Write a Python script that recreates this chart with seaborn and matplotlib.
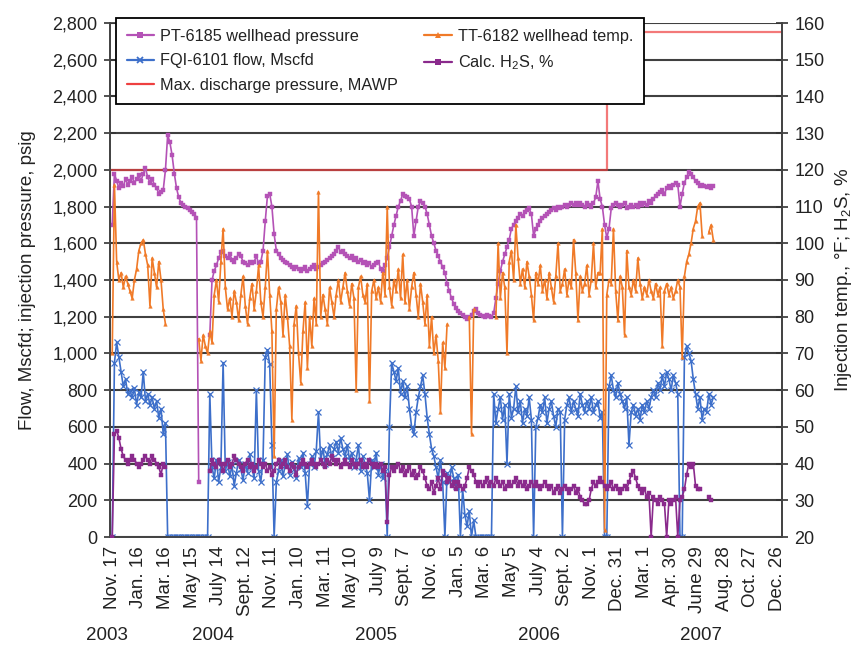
import numpy as np
import pandas as pd
import matplotlib
matplotlib.use("Agg")
import matplotlib.pyplot as plt
import matplotlib.dates as mdates
from matplotlib.lines import Line2D
from matplotlib.transforms import blended_transform_factory
import seaborn as sns

NA = np.nan

# ---------------- data (sampled every 5 days from 17 Nov 2003) ----------------
SAMPLE_START = "2003-11-17"
SAMPLE_STEP = "5D"

pt_psig = [  # PT-6185 wellhead pressure, psig
    1700, 1980, 1940, 1900, 1930, 1910, 1950, 1920, 1940, 1960,
    1930, 1950, 1970, 1940, 1980, 2010, 1960, 1930, 1950, 1920,
    1900, 1870, 1880, 1890, 2000, 2190, 2150, 2080, 1980, 1900,
    1850, 1820, 1810, 1800, 1790, 1780, 1770, 1760, 1740, 300,
    NA, NA, NA, NA, 1100, 1400, 1450, 1480, 1520, 1550,
    1560, 1530, 1520, 1540, 1510, 1500, 1520, 1540, 1530, 1500,
    1490, 1480, 1500, 1490, 1500, 1530, 1490, 1500, 1560, 1720,
    1860, 1870, 1800, 1650, 1560, 1540, 1520, 1510, 1500, 1490,
    1480, 1470, 1460, 1470, 1460, 1450, 1460, 1470, 1450, 1460,
    1470, 1480, 1460, 1470, 1480, 1490, 1500, 1510, 1520, 1530,
    1540, 1560, 1580, 1550, 1560, 1540, 1530, 1520, 1530, 1510,
    1520, 1500, 1510, 1490, 1500, 1480, 1490, 1470, 1480, 1490,
    1500, 1460, 1450, 1480, 1520, 1580, 1640, 1700, 1750, 1800,
    1830, 1870, 1860, 1850, 1840, 1800, 1640, 1720, 1800, 1830,
    1820, 1800, 1760, 1700, 1640, 1600, 1560, 1530, 1500, 1470,
    1440, 1380, 1340, 1300, 1270, 1250, 1230, 1220, 1210, 1200,
    1190, 1200, 1210, 1230, 1240, 1220, 1210, 1205, 1200, 1210,
    1205, 1200, 1220, 1300, 1380, 1450, 1500, 1540, 1580, 1620,
    1680, 1700, 1720, 1740, 1760, 1750, 1770, 1780, 1790, 1760,
    1640, 1680, 1700, 1720, 1740, 1750, 1760, 1770, 1780, 1790,
    1780, 1800, 1790, 1800, 1810, 1800, 1810, 1820, 1810, 1820,
    1810, 1820, 1810, 1800, 1820, 1810, 1800, 1820, 1850, 1940,
    1840, 1800, 1700, 1630, 1680, 1790, 1810, 1820, 1810, 1800,
    1810, 1820, 1790, 1800, 1810, 1800, 1810, 1800, 1820, 1810,
    1820, 1810, 1830, 1820, 1840, 1860, 1870, 1880, 1890, 1870,
    1900, 1910, 1900, 1920, 1930, 1920, 1800, 1870, 1930, 1960,
    1990, 1980, 1960, 1940, 1930, 1910, 1920, 1910, 1905, 1910,
    1900, 1910,
]

tt_degf = [  # TT-6182 wellhead temperature, deg F
    70, 116, 95, 90, 92, 88, 91, 89, 87, 85,
    90, 93, 98, 100, 101, 97, 94, 83, 96, 92,
    88, 95, 90, 82, 78, NA, NA, NA, NA, NA,
    NA, NA, NA, NA, NA, NA, NA, NA, NA, 74,
    68, 75, 72, 70, 76, 73, 86, 90, 84, 95,
    104, 88, 82, 85, 80, 87, 84, 79, 86, 91,
    83, 78, 85, 89, 82, 87, 94, 84, 80, 88,
    98, 86, 76, 42, 82, 88, 84, 75, 86, 80,
    72, 52, 78, 83, 70, 62, 76, 84, 66, 80,
    72, 85, 78, 114, 80, 86, 82, 78, 88, 84,
    80, 86, 90, 84, 88, 92, 87, 83, 89, 85,
    60, 88, 91, 86, 84, 89, 57, 87, 90, 85,
    88, 84, 92, 86, 110, 88, 83, 90, 87, 93,
    85, 97, 84, 90, 82, 88, 92, 86, 80, 89,
    84, 78, 86, 72, 80, 70, 75, 68, 54, 73,
    66, 78, NA, NA, NA, NA, NA, NA, NA, NA,
    NA, 80, 48, 82, NA, NA, NA, NA, NA, NA,
    NA, NA, NA, 80, 100, 85, 92, 88, 70, 95,
    98, 90, 105, 96, 89, 93, 88, 95, 91, 86,
    79, 92, 89, 94, 87, 90, 85, 92, 88, 84,
    91, 100, 87, 89, 93, 86, 90, 88, 101, 92,
    79, 91, 87, 89, 94, 86, 90, 100, 88, 92,
    92, 104, 22, 86, 90, 89, 104, 87, 79, 91,
    88, 75, 98, 88, 86, 90, 87, 96, 89, 85,
    88, 86, 90, 87, 85, 89, 86, 88, 72, 87,
    89, 86, 88, 85, 87, 90, 88, 69, 91, 95,
    97, 100, 104, 106, 110, 111, 102, NA, NA, 103,
    105, 101,
]

fqi_mscfd = [  # FQI-6101 flow, Mscfd
    0, 950, 1060, 980, 900, 820, 860, 780, 800, 760,
    810, 720, 790, 760, 900, 740, 780, 720, 760, 700,
    740, 650, 700, 560, 620, 0, 0, 0, 0, 0,
    0, 0, 0, 0, 0, 0, 0, 0, 0, 0,
    0, 0, 0, 0, 780, 380, 320, 420, 300, 380,
    950, 360, 410, 330, 390, 280, 350, 420, 370, 310,
    400, 350, 450, 380, 320, 800, 360, 300, 420, 980,
    1020, 940, 500, 0, 300, 360, 420, 330, 390, 450,
    340, 410, 370, 320, 430, 380, 460, 350, 170, 400,
    440, 380, 470, 680, 420, 480, 400, 450, 500, 430,
    480, 520, 460, 540, 480, 440, 500, 420, 460, 380,
    420, 500, 360, 440, 400, 350, 200, 420, 380, 460,
    340, 400, 320, 360, 0, 600, 950, 900, 850, 920,
    780, 850, 760, 820, 700, 600, 560, 680, 760, 820,
    880, 780, 650, 560, 480, 440, 380, 320, 420, 300,
    0, 350, 300, 380, 320, 280, 340, 0, 260, 120,
    60, 140, 0, 90, 0, 0, 0, 0, 0, 0,
    0, 0, 780, 620, 700, 760, 640, 720, 400, 780,
    650, 700, 820, 680, 740, 620, 700, 660, 760, 640,
    0, 600, 650, 720, 680, 760, 620, 700, 740, 660,
    600, 700, 680, 0, 640, 720, 760, 680, 740, 700,
    660, 780, 720, 680, 740, 700, 760, 680, 720, 740,
    650, 680, 0, 0, 820, 880, 800, 760, 840, 780,
    740, 700, 760, 500, 680, 720, 660, 700, 640, 720,
    680, 740, 700, 760, 800, 760, 840, 800, 880, 820,
    900, 860, 800, 880, 840, 780, 0, 0, 980, 1040,
    1000, 960, 860, 780, 700, 760, 640, 700, 680, 780,
    720, 760,
]

h2s_pct = [  # calculated H2S, %
    20, 48, 49, 47, 44, 42, 41, 40, 41, 42,
    41, 40, 39, 40, 41, 42, 41, 40, 42, 41,
    40, 39, 37, 40, 39, NA, NA, NA, NA, NA,
    NA, NA, NA, NA, NA, NA, NA, NA, NA, NA,
    NA, NA, NA, NA, 38, 41, 40, 39, 41, 40,
    38, 40, 41, 39, 40, 42, 41, 40, 39, 38,
    40, 41, 39, 40, 38, 39, 41, 40, 39, 40,
    38, 39, 37, 38, 40, 41, 39, 40, 41, 39,
    38, 40, 39, 37, 39, 40, 41, 40, 39, 40,
    41, 40, 39, 40, 41, 40, 39, 41, 40, 42,
    41, 40, 41, 39, 40, 41, 40, 39, 41, 40,
    39, 40, 41, 39, 40, 39, 41, 40, 39, 40,
    39, 40, 38, 39, 24, 37, 39, 38, 39, 40,
    38, 39, 37, 38, 39, 37, 38, 36, 37, 39,
    38, 36, 34, 33, 35, 32, 34, 36, 33, 38,
    37, 35, 36, 34, 35, 33, 35, 34, 33, 34,
    36, 39, 38, 37, 35, 34, 35, 34, 35, 36,
    34, 35, 34, 36, 35, 34, 35, 33, 34, 35,
    34, 35, 36, 34, 35, 34, 35, 33, 34, 35,
    34, 35, 34, 33, 34, 35, 34, 33, 34, 32,
    33, 34, 32, 33, 34, 33, 32, 33, 34, 32,
    33, 31, 30, 29, 29, 30, 33, 35, 34, 35,
    36, 35, 34, 33, 34, 35, 33, 34, 33, 32,
    33, 34, 33, 35, 37, 38, 36, 34, 33, 32,
    33, 31, 32, 20, 31, 30, 29, 31, 30, 29,
    20, 30, 29, 30, 31, 20, 30, 31, 33, 37,
    40, 39, 40, 34, 33, 33, NA, NA, NA, 31,
    30, NA,
]

mawp_dates = ["2003-11-12", "2006-12-06", "2006-12-06", "2008-01-05"]
mawp_psig = [2000, 2000, 2750, 2750]

x_tick_labels = ["Nov. 17", "Jan. 16", "Mar. 16", "May 15", "July 14", "Sept. 12",
                 "Nov. 11", "Jan. 10", "Mar. 11", "May 10", "July 9", "Sept. 7",
                 "Nov. 6", "Jan. 5", "Mar. 6", "May 5", "July 4", "Sept. 2",
                 "Nov. 1", "Dec. 31", "Mar. 1", "Apr. 30", "June 29", "Aug. 28",
                 "Oct. 27", "Dec. 26"]
x_tick_start = "2003-11-17"

left_ticks = [0, 200, 400, 600, 800, 1000, 1200, 1400, 1600, 1800, 2000,
              2200, 2400, 2600, 2800]
left_tick_labels = ["0", "200", "400", "600", "800", "1,000", "1,200", "1,400",
                    "1,600", "1,800", "2,000", "2,200", "2,400", "2,600", "2,800"]
right_ticks = [20, 30, 40, 50, 60, 70, 80, 90, 100, 110, 120, 130, 140, 150, 160]

year_labels = ["2003", "2004", "2005", "2006", "2007"]
year_label_dates = ["2003-11-04", "2004-07-01", "2005-07-04", "2006-07-06", "2007-07-06"]

# ---------------- style ----------------
sns.set_style("white")
plt.rcParams["font.family"] = ["Liberation Sans", "DejaVu Sans"]
plt.rcParams["mathtext.fontset"] = "custom"
plt.rcParams["mathtext.rm"] = "Liberation Sans"
plt.rcParams["mathtext.it"] = "Liberation Sans:italic"
plt.rcParams["text.color"] = "#222222"

C_PT = "#b452b6"
C_TT = "#f07a28"
C_FQI = "#3d6fca"
C_H2S = "#8a2a8c"
C_MAWP = "#ee4040"
GRID = "#404040"


def series_frame(values):
    v = np.array(values, dtype=float)
    d = pd.date_range(SAMPLE_START, periods=len(v), freq=SAMPLE_STEP)
    df = pd.DataFrame({"date": d, "value": v})
    df["seg"] = df["value"].isna().cumsum()
    return df.dropna()


def draw(values, axis, color, marker, ms, mew, lw, z):
    sns.lineplot(data=series_frame(values), x="date", y="value", units="seg",
                 estimator=None, sort=False, color=color, lw=lw, marker=marker,
                 markersize=ms, markeredgewidth=mew, markeredgecolor=color,
                 markerfacecolor=color, ax=axis, legend=False, zorder=z)


fig = plt.figure(figsize=(8.55, 6.45), dpi=100)
ax = fig.add_axes([110 / 855, 1 - 537 / 645, 672 / 855, 514 / 645])
ax2 = ax.twinx()

# left-axis series
mawp_df = pd.DataFrame({"date": pd.to_datetime(mawp_dates), "value": mawp_psig})
sns.lineplot(data=mawp_df, x="date", y="value", sort=False, estimator=None,
             color=C_MAWP, lw=1.6, alpha=0.7, ax=ax, legend=False)
draw(pt_psig, ax, C_PT, "s", 2.2, 0.3, 1.2, 3)
draw(fqi_mscfd, ax, C_FQI, "x", 3.8, 0.9, 1.2, 3)

# right-axis series
draw(tt_degf, ax2, C_TT, "^", 2.6, 0.3, 1.2, 2)
draw(h2s_pct, ax2, C_H2S, "s", 2.4, 0.3, 1.2, 3)

# axes limits / ticks
ax.set_xlim(pd.Timestamp("2003-11-12"), pd.Timestamp("2008-01-05"))
ax.set_ylim(0, 2800)
ax2.set_ylim(20, 160)

major = pd.date_range(x_tick_start, periods=len(x_tick_labels), freq="60D")
minor = pd.date_range(x_tick_start, periods=2 * len(x_tick_labels) - 1, freq="30D")
ax.set_xticks(mdates.date2num(major))
ax.set_xticklabels(x_tick_labels, rotation=90, ha="center", va="top")
ax.set_xticks(mdates.date2num(minor), minor=True)

ax.set_yticks(left_ticks)
ax.set_yticklabels(left_tick_labels)
ax2.set_yticks(right_ticks)
ax2.set_yticklabels([str(t) for t in right_ticks])

ax.tick_params(axis="x", which="both", direction="inout", length=7, width=1.2,
               color="#333333", labelsize=13.5, pad=3, labelcolor="#222222")
ax.tick_params(axis="y", direction="inout", length=8, width=1.2, color="#333333",
               labelsize=13, pad=5, labelcolor="#222222")
ax2.tick_params(axis="y", direction="inout", length=8, width=1.2, color="#333333",
                labelsize=13, pad=5, labelcolor="#222222")

ax.yaxis.grid(True, color=GRID, lw=1.5)
ax.xaxis.grid(False)
ax.set_axisbelow(True)
for a in (ax, ax2):
    a.set_xlabel("")
    a.set_ylabel("")
    a.spines["top"].set_visible(False)
    for s in ("left", "right", "bottom"):
        a.spines[s].set_color("#444444")
        a.spines[s].set_linewidth(1.3)

# axis titles
fig.text(28 / 855, 1 - 280 / 645, "Flow, Mscfd; injection pressure, psig",
         rotation=90, ha="center", va="center", fontsize=13.5)
fig.text(843 / 855, 1 - 280 / 645, "Injection temp., °F; H$_\\mathrm{2}$S, %",
         rotation=90, ha="center", va="center", fontsize=13.5)

# year labels under the date ticks
trans = blended_transform_factory(ax.transData, fig.transFigure)
for lab, d in zip(year_labels, year_label_dates):
    ax.text(mdates.date2num(pd.Timestamp(d)), 1 - 635 / 645, lab, transform=trans,
            ha="center", va="center", fontsize=13.5, clip_on=False)

# legend
def h(color, marker, ms, mew=0):
    return Line2D([], [], color=color, lw=1.6, marker=marker, markersize=ms,
                  markeredgewidth=mew, markeredgecolor=color)

handles = [h(C_PT, "s", 5), h(C_FQI, "x", 5, 1.3), Line2D([], [], color=C_MAWP, lw=1.6),
           h(C_TT, "^", 5), h(C_H2S, "s", 5)]
labels = ["PT-6185 wellhead pressure", "FQI-6101 flow, Mscfd",
          "Max. discharge pressure, MAWP", "TT-6182 wellhead temp.",
          "Calc. H$_\\mathrm{2}$S, %"]
leg = ax2.legend(handles, labels, ncol=2, loc="upper left",
                 bbox_to_anchor=(116 / 855, 1 - 18 / 645), bbox_transform=fig.transFigure,
                 borderaxespad=0, frameon=True, fancybox=False, framealpha=1,
                 edgecolor="black", fontsize=11.7, handlelength=1.7,
                 handletextpad=0.37, columnspacing=1.6, labelspacing=0.6,
                 borderpad=0.65)
leg.get_frame().set_linewidth(1.3)
leg.set_zorder(10)

fig.savefig("out.png", dpi=100)
